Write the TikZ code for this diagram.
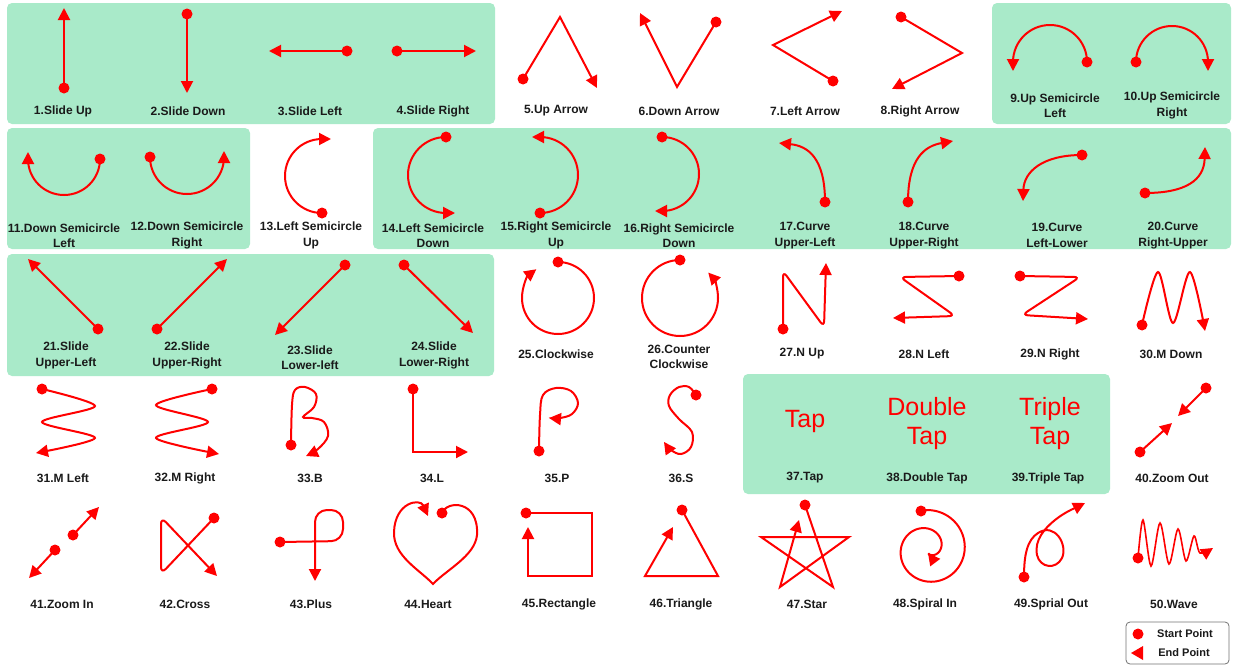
\documentclass[tikz,border=0pt]{standalone}
\usepackage{fontspec}
\setmainfont{Liberation Sans}
\usepackage{tikz}
\usetikzlibrary{arrows.meta}
\definecolor{gestred}{RGB}{255,0,0}
\definecolor{panelgreen}{RGB}{169,234,201}
\definecolor{labelink}{RGB}{26,26,26}
\tikzset{
  panel/.style={fill=panelgreen,rounded corners=5pt},
  stroke/.style={draw=gestred,line width=2pt,line join=miter,-{Triangle[length=12pt,width=12pt]}},
  startdot/.style={circle,fill=gestred,inner sep=0pt,minimum size=11pt},
  gesturelabel/.style={font=\bfseries\fontsize{12}{15.5}\selectfont,text=labelink,align=center,inner sep=0pt},
  taptext/.style={font=\fontsize{25}{29}\selectfont,text=gestred,align=center,inner sep=0pt},
  legendbox/.style={draw=black!55,line width=0.8pt,rounded corners=4pt,fill=white},
  legendtext/.style={font=\bfseries\fontsize{11}{13}\selectfont,text=labelink,inner sep=0pt}
}
\begin{document}
\begin{tikzpicture}[x=1pt,y=-1pt]
  \useasboundingbox (0,0) rectangle (1233,667);
  \fill[panel] (7,3) rectangle (495,124);
  \fill[panel] (992,3) rectangle (1231,124);
  \fill[panel] (7,128) rectangle (250,249);
  \fill[panel] (373,128) rectangle (1231,249);
  \fill[panel] (7,254) rectangle (494,376);
  \fill[panel] (743,374) rectangle (1110,494);

  % row 1
  \node[startdot] (d1) at (64,88) {};
  \draw[stroke] (d1.center) -- (64,8);
  \node[startdot] (d2) at (187,14) {};
  \draw[stroke] (d2.center) -- (187,93);
  \node[startdot] (d3) at (347,51) {};
  \draw[stroke] (d3.center) -- (269,51);
  \node[startdot] (d4) at (397,51) {};
  \draw[stroke] (d4.center) -- (476,51);
  \node[startdot] (d5) at (523,79) {};
  \draw[stroke] (d5.center) -- (560,17) -- (597,88);
  \node[startdot] (d6) at (716,22) {};
  \draw[stroke] (d6.center) -- (677,87) -- (640,13);
  \node[startdot] (d7) at (833,81) {};
  \draw[stroke] (d7.center) -- (773,45) -- (842,11);
  \node[startdot] (d8) at (901,17) {};
  \draw[stroke] (d8.center) -- (962,53) -- (892,89);
  \node[startdot] (d9) at (1087,62) {};
  \draw[stroke] (d9.center) arc[start angle=0,end angle=180,radius=37pt] -- ++(0,9);
  \node[startdot] (d10) at (1136,62) {};
  \draw[stroke] (d10.center) arc[start angle=180,end angle=0,radius=36pt] -- ++(0,9);

  % row 2
  \node[startdot] (d11) at (100,159) {};
  \draw[stroke] (d11.center) arc[start angle=0,end angle=-180,radius=36pt] -- ++(0,-7);
  \node[startdot] (d12) at (150,157) {};
  \draw[stroke] (d12.center) arc[start angle=180,end angle=360,radius=37pt] -- ++(0,-6);
  \node[startdot] (d13) at (322,213) {};
  \draw[stroke] (d13.center) arc[start angle=-90,end angle=-270,radius=37pt] -- ++(9,0);
  \node[startdot] (d14) at (446,137) {};
  \draw[stroke] (d14.center) arc[start angle=90,end angle=270,radius=38pt] -- ++(9,0);
  \node[startdot] (d15) at (540,213) {};
  \draw[stroke] (d15.center) arc[start angle=-90,end angle=90,radius=38pt] -- ++(-8,0);
  \node[startdot] (d16) at (662,137) {};
  \draw[stroke] (d16.center) arc[start angle=90,end angle=-90,radius=37pt] -- ++(-7,0);
  \node[startdot] (d17) at (825,202) {};
  \draw[stroke] (d17.center) .. controls (825,158) and (808,146) .. (779,143);
  \node[startdot] (d18) at (908,202) {};
  \draw[stroke] (d18.center) .. controls (908,158) and (925,146) .. (953,141);
  \node[startdot] (d19) at (1082,155) {};
  \draw[stroke] (d19.center) .. controls (1042,155) and (1024,172) .. (1023,201);
  \node[startdot] (d20) at (1145,193) {};
  \draw[stroke] (d20.center) .. controls (1186,193) and (1204,180) .. (1205,147);

  % row 3
  \node[startdot] (d21) at (98,329) {};
  \draw[stroke] (d21.center) -- (28,259);
  \node[startdot] (d22) at (157,329) {};
  \draw[stroke] (d22.center) -- (227,259);
  \node[startdot] (d23) at (345,265) {};
  \draw[stroke] (d23.center) -- (275,335);
  \node[startdot] (d24) at (404,265) {};
  \draw[stroke] (d24.center) -- (473,333);
  \node[startdot] (d25) at (558,262) {};
  \draw[stroke] (d25.center) arc[start angle=90,end angle=-233,radius=36pt];
  \node[startdot] (d26) at (680,260) {};
  \draw[stroke] (d26.center) arc[start angle=90,end angle=402,radius=38pt];
  \node[startdot] (d27) at (783,329) {};
  \draw[stroke,rounded corners=6pt] (d27.center) -- (783,271) -- (824,327) -- (826,263);
  \node[startdot] (d28) at (959,276) {};
  \draw[stroke,rounded corners=6pt] (d28.center) -- (900,277) -- (955,316) -- (893,318);
  \node[startdot] (d29) at (1020,276) {};
  \draw[stroke,rounded corners=6pt] (d29.center) -- (1080,277) -- (1022,315) -- (1088,319);
  \node[startdot] (d30) at (1142,325) {};
  \draw[stroke] plot[smooth,tension=0.5] coordinates {(1142,325) (1158,272) (1173,323) (1190,272) (1205,331)};

  % row 4
  \node[startdot] (d31) at (42,389) {};
  \draw[stroke] plot[smooth] coordinates {(42,389) (95,406) (42,422) (95,438) (36,453)};
  \node[startdot] (d32) at (212,389) {};
  \draw[stroke] plot[smooth] coordinates {(212,389) (156,405) (208,422) (156,438) (219,454)};
  \node[startdot] (d33) at (291,445) {};
  \draw[stroke] plot[smooth,tension=0.6] coordinates {(291,445) (292,405) (295,390) (305,387) (316,394) (314,407) (303,417) (312,418) (324,422) (328,436) (318,449) (306,456)};
  \node[startdot] (d34) at (413,389) {};
  \draw[stroke] (d34.center) -- (413,452) -- (468,452);
  \node[startdot] (d35) at (539,451) {};
  \draw[stroke] plot[smooth,tension=0.6] coordinates {(539,451) (540,415) (543,395) (556,388) (571,391) (578,403) (572,414) (560,418) (549,418)};
  \node[startdot] (d36) at (696,395) {};
  \draw[stroke] plot[smooth,tension=0.6] coordinates {(696,395) (689,387) (679,387) (670,395) (669,406) (679,419) (692,432) (691,447) (681,454) (671,450) (664,442)};
  \node[taptext] (t37) at (805,421) {Tap};
  \node[taptext] (t38) at (927,424) {Double\\Tap};
  \node[taptext] (t39) at (1050,424) {Triple\\Tap};
  \node[startdot] (d40a) at (1206,388) {};
  \draw[stroke] (d40a.center) -- (1178,416);
  \node[startdot] (d40b) at (1140,452) {};
  \draw[stroke] (d40b.center) -- (1172,423);

  % row 5
  \node[startdot] (d41a) at (73,535) {};
  \draw[stroke] (d41a.center) -- (99,507);
  \node[startdot] (d41b) at (55,550) {};
  \draw[stroke] (d41b.center) -- (29,578);
  \node[startdot] (d42) at (214,518) {};
  \draw[stroke,rounded corners=7pt] (d42.center) -- (161,574) -- (161,517) -- (217,576);
  \node[startdot] (d43) at (280,542) {};
  \draw[stroke,rounded corners=12pt] (d43.center) -- (343,541) -- (343,510) -- (315,510) -- (315,581);
  \node[startdot] (d44) at (442,513) {};
  \draw[stroke] (d44.center) .. controls (447,500) and (479,500) .. (477,535)
    .. controls (475,556) and (446,570) .. (433,584)
    .. controls (420,570) and (393,556) .. (394,532)
    .. controls (395,502) and (420,498) .. (428,516);
  \node[startdot] (d45) at (526,513) {};
  \draw[stroke] (d45.center) -- (592,513) -- (592,576) -- (528,576) -- (528,527);
  \node[startdot] (d46) at (682,510) {};
  \draw[stroke] (d46.center) -- (718,576) -- (645,576) -- (673,527);
  \node[startdot] (d47) at (805,505) {};
  \draw[stroke] (d47.center) -- (833,587) -- (761,537) -- (849,537) -- (780,587) -- (799,520);
  \node[startdot] (d48) at (921,511) {};
  \draw[stroke] plot[domain=-10:540,samples=150,smooth]
    ({928+(39-35*((\x+10)/550)^1.6)*sin(\x)},{549-(39-35*((\x+10)/550)^1.6)*cos(\x)});
  \node[startdot] (d49) at (1024,577) {};
  \draw[stroke] (d49.center) .. controls (1024,555) and (1027,540) .. (1038,533)
    .. controls (1055,522) and (1068,545) .. (1062,558)
    .. controls (1056,570) and (1040,568) .. (1037,555)
    .. controls (1034,540) and (1045,528) .. (1055,520)
    .. controls (1065,512) and (1075,508) .. (1085,503);
  \node[startdot] (d50) at (1138,558) {};
  \draw[stroke,line width=1.6pt] plot[smooth,tension=0.5] coordinates {(1138,558) (1143,520) (1151,566) (1160,523) (1169,564) (1178,529) (1186,561) (1194,536) (1200,553) (1213,548)};

  % labels
  \node[gesturelabel] (l1) at (63,111) {1.Slide Up};
  \node[gesturelabel] (l2) at (188,111) {2.Slide Down};
  \node[gesturelabel] (l3) at (310,111) {3.Slide Left};
  \node[gesturelabel] (l4) at (433,111) {4.Slide Right};
  \node[gesturelabel] (l5) at (556,111) {5.Up Arrow};
  \node[gesturelabel] (l6) at (679,111) {6.Down Arrow};
  \node[gesturelabel] (l7) at (805,111) {7.Left Arrow};
  \node[gesturelabel] (l8) at (920,111) {8.Right Arrow};
  \node[gesturelabel] (l9) at (1055,105.5) {9.Up Semicircle\\Left};
  \node[gesturelabel] (l10) at (1172,105.5) {10.Up Semicircle\\Right};
  \node[gesturelabel] (l11) at (64,235.5) {11.Down Semicircle\\Left};
  \node[gesturelabel] (l12) at (187,235.5) {12.Down Semicircle\\Right};
  \node[gesturelabel] (l13) at (311,235.5) {13.Left Semicircle\\Up};
  \node[gesturelabel] (l14) at (433,235.5) {14.Left Semicircle\\Down};
  \node[gesturelabel] (l15) at (556,235.5) {15.Right Semicircle\\Up};
  \node[gesturelabel] (l16) at (679,235.5) {16.Right Semicircle\\Down};
  \node[gesturelabel] (l17) at (805,235.5) {17.Curve\\Upper-Left};
  \node[gesturelabel] (l18) at (924,235.5) {18.Curve\\Upper-Right};
  \node[gesturelabel] (l19) at (1057,235.5) {19.Curve\\Left-Lower};
  \node[gesturelabel] (l20) at (1173,235.5) {20.Curve\\Right-Upper};
  \node[gesturelabel] (l21) at (66,355.5) {21.Slide\\Upper-Left};
  \node[gesturelabel] (l22) at (187,355.5) {22.Slide\\Upper-Right};
  \node[gesturelabel] (l23) at (310,357.5) {23.Slide\\Lower-left};
  \node[gesturelabel] (l24) at (434,355.5) {24.Slide\\Lower-Right};
  \node[gesturelabel] (l25) at (556,354) {25.Clockwise};
  \node[gesturelabel] (l26) at (679,357) {26.Counter\\Clockwise};
  \node[gesturelabel] (l27) at (802,354) {27.N Up};
  \node[gesturelabel] (l28) at (924,354) {28.N Left};
  \node[gesturelabel] (l29) at (1050,354) {29.N Right};
  \node[gesturelabel] (l30) at (1171,354) {30.M Down};
  \node[gesturelabel] (l31) at (63,478) {31.M Left};
  \node[gesturelabel] (l32) at (185,478) {32.M Right};
  \node[gesturelabel] (l33) at (310,478) {33.B};
  \node[gesturelabel] (l34) at (432,478) {34.L};
  \node[gesturelabel] (l35) at (557,478) {35.P};
  \node[gesturelabel] (l36) at (681,478) {36.S};
  \node[gesturelabel] (l37) at (805,478) {37.Tap};
  \node[gesturelabel] (l38) at (927,478) {38.Double Tap};
  \node[gesturelabel] (l39) at (1048,478) {39.Triple Tap};
  \node[gesturelabel] (l40) at (1172,478) {40.Zoom Out};
  \node[gesturelabel] (l41) at (62,604) {41.Zoom In};
  \node[gesturelabel] (l42) at (185,604) {42.Cross};
  \node[gesturelabel] (l43) at (311,604) {43.Plus};
  \node[gesturelabel] (l44) at (428,604) {44.Heart};
  \node[gesturelabel] (l45) at (559,604) {45.Rectangle};
  \node[gesturelabel] (l46) at (681,604) {46.Triangle};
  \node[gesturelabel] (l47) at (807,604) {47.Star};
  \node[gesturelabel] (l48) at (925,604) {48.Spiral In};
  \node[gesturelabel] (l49) at (1051,604) {49.Sprial Out};
  \node[gesturelabel] (l50) at (1174,604) {50.Wave};

  % legend
  \draw[legendbox] (1126,622) rectangle (1229,664);
  \node[startdot] (ls) at (1138,634) {};
  \fill[gestred] (1131,653) -- (1143,646) -- (1143,660) -- cycle;
  \node[legendtext] (lst) at (1185,634) {Start Point};
  \node[legendtext] (let) at (1184,653) {End Point};
\end{tikzpicture}
\end{document}
